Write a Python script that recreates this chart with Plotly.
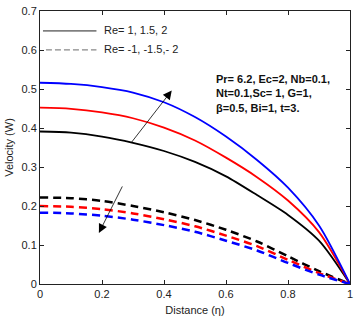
import plotly.graph_objects as go

eta = [0, 0.1, 0.2, 0.3, 0.4, 0.5, 0.6, 0.7, 0.8, 0.9, 1.0]

pos_black = [0.391, 0.388, 0.378, 0.362, 0.341, 0.313, 0.276, 0.228, 0.177, 0.111, 0.0]
pos_red   = [0.452, 0.449, 0.440, 0.425, 0.401, 0.368, 0.324, 0.274, 0.214, 0.133, 0.0]
pos_blue  = [0.516, 0.513, 0.505, 0.491, 0.466, 0.428, 0.378, 0.318, 0.247, 0.150, 0.0]

neg_black = [0.222, 0.220, 0.213, 0.200, 0.184, 0.164, 0.139, 0.109, 0.071, 0.033, 0.0]
neg_red   = [0.200, 0.198, 0.192, 0.181, 0.166, 0.148, 0.124, 0.097, 0.062, 0.028, 0.0]
neg_blue  = [0.183, 0.181, 0.175, 0.165, 0.151, 0.134, 0.111, 0.086, 0.054, 0.024, 0.0]

x_ticks = [0, 0.2, 0.4, 0.6, 0.8, 1]
x_tick_labels = ["0", "0.2", "0.4", "0.6", "0.8", "1"]
y_ticks = [0, 0.1, 0.2, 0.3, 0.4, 0.5, 0.6, 0.7]
y_tick_labels = ["0", "0.1", "0.2", "0.3", "0.4", "0.5", "0.6", "0.7"]

legend_labels = ["Re= 1, 1.5, 2", "Re= -1, -1.5,- 2"]
param_text = "Pr= 6.2, Ec=2, Nb=0.1,<br>Nt=0.1,Sc= 1, G=1,<br>β=0.5, Bi=1, t=3."

FONT = "Liberation Sans, Arial"

fig = go.Figure()

for ys, col in [(pos_black, "black"), (pos_red, "red"), (pos_blue, "blue")]:
    fig.add_trace(go.Scatter(x=eta, y=ys, mode="lines",
                             line=dict(color=col, width=1.8, shape="spline", smoothing=0.8),
                             showlegend=False, hoverinfo="skip"))
for ys, col in [(neg_black, "black"), (neg_red, "red"), (neg_blue, "blue")]:
    fig.add_trace(go.Scatter(x=eta, y=ys, mode="lines",
                             line=dict(color=col, width=2.5, dash="8px,5px", shape="spline", smoothing=0.8),
                             showlegend=False, hoverinfo="skip"))

L, R, T, B = 40, 353, 11, 285
W, H = 358, 320

def px(p):
    return (p - L) / (R - L)

def py(p):
    return (B - p) / (B - T)

# legend
fig.add_shape(type="line", xref="paper", yref="paper", x0=px(43), x1=px(97), y0=py(31), y1=py(31),
              line=dict(color="#222", width=1))
fig.add_shape(type="line", xref="paper", yref="paper", x0=px(46), x1=px(97), y0=py(50), y1=py(50),
              line=dict(color="#888", width=1.3, dash="6px,3px"))
fig.add_annotation(xref="paper", yref="paper", x=px(103), y=py(30), text=legend_labels[0],
                   showarrow=False, xanchor="left", yanchor="middle",
                   font=dict(family=FONT, size=11, color="#222"))
fig.add_annotation(xref="paper", yref="paper", x=px(103), y=py(49), text=legend_labels[1],
                   showarrow=False, xanchor="left", yanchor="middle",
                   font=dict(family=FONT, size=11, color="#222"))

# parameter text
fig.add_annotation(xref="paper", yref="paper", x=px(216), y=py(71), text="<b>" + param_text + "</b>",
                   showarrow=False, xanchor="left", yanchor="top", align="left",
                   font=dict(family=FONT, size=11, color="#111"))

# arrows
fig.add_annotation(x=0.425, y=0.496, ax=0.29, ay=0.358, xref="x", yref="y", axref="x", ayref="y",
                   text="", showarrow=True, arrowhead=2, arrowsize=2.2, arrowwidth=0.8, arrowcolor="black")
fig.add_annotation(x=0.190, y=0.131, ax=0.268, ay=0.254, xref="x", yref="y", axref="x", ayref="y",
                   text="", showarrow=True, arrowhead=2, arrowsize=2.2, arrowwidth=0.8, arrowcolor="black")

axis_common = dict(showline=True, linecolor="#222", linewidth=1, mirror="ticks", ticks="inside",
                   ticklen=4, tickcolor="#222", showgrid=False, zeroline=False,
                   tickfont=dict(family=FONT, size=11, color="#222"))

fig.update_xaxes(range=[0, 1], tickvals=x_ticks, ticktext=x_tick_labels,
                 title=dict(text="Distance (η)", font=dict(family=FONT, size=11, color="#222"),
                            standoff=7), **axis_common)
fig.update_yaxes(range=[0, 0.7], tickvals=y_ticks, ticktext=y_tick_labels,
                 title=dict(text="Velocity (W)", font=dict(family=FONT, size=11, color="#222"),
                            standoff=5), **axis_common)

fig.update_layout(width=W, height=H, margin=dict(l=L, r=W - R, t=T, b=H - B),
                  paper_bgcolor="white", plot_bgcolor="white", showlegend=False)

fig.write_html("out.html")
